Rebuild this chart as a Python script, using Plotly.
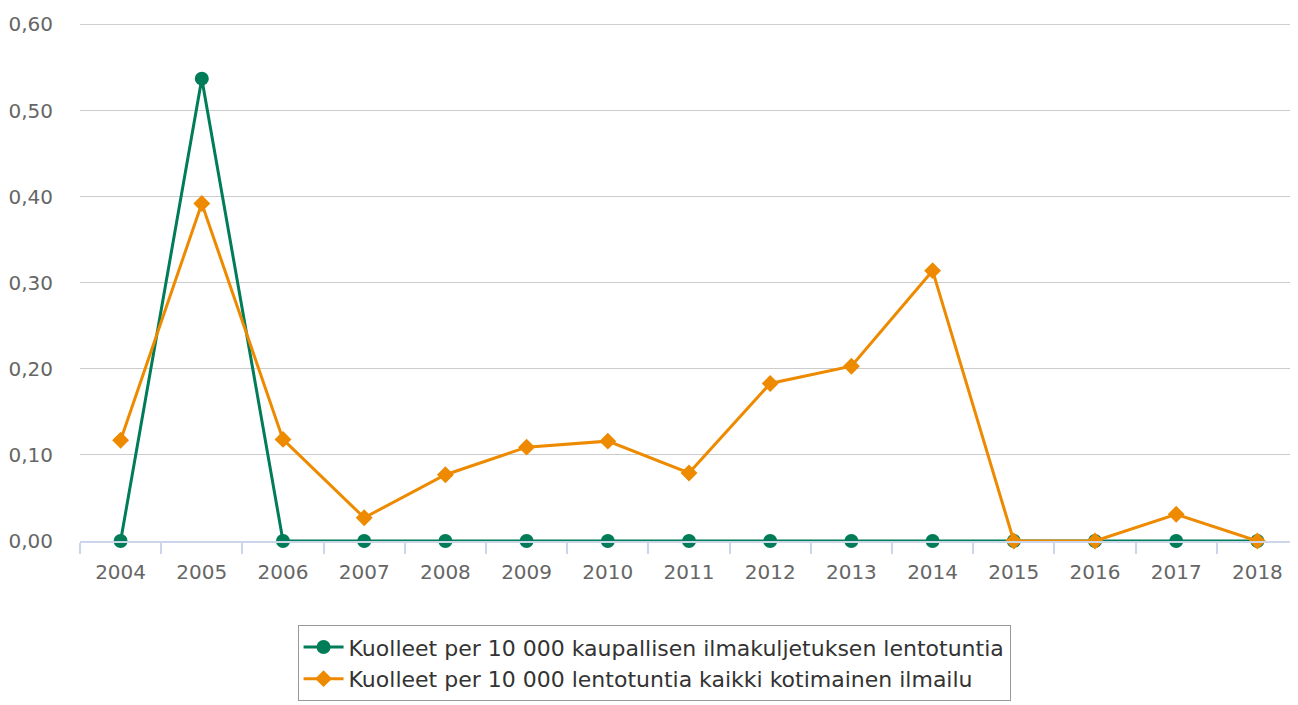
import plotly.graph_objects as go

years = ["2004", "2005", "2006", "2007", "2008", "2009", "2010", "2011",
         "2012", "2013", "2014", "2015", "2016", "2017", "2018"]
commercial = [0.0, 0.537, 0.0, 0.0, 0.0, 0.0, 0.0, 0.0, 0.0, 0.0, 0.0, 0.0, 0.0, 0.0, 0.0]
all_domestic = [0.117, 0.392, 0.118, 0.027, 0.077, 0.109, 0.116, 0.079,
                0.183, 0.203, 0.314, 0.0, 0.0, 0.031, 0.0]
y_ticks = [0, 0.1, 0.2, 0.3, 0.4, 0.5, 0.6]

name_commercial = "Kuolleet per 10 000 kaupallisen ilmakuljetuksen lentotuntia"
name_all = "Kuolleet per 10 000 lentotuntia kaikki kotimainen ilmailu"

green = "#007c58"
orange = "#ee8a00"

fig = go.Figure()
fig.add_trace(go.Scatter(x=years, y=commercial, mode="lines+markers", name=name_commercial,
                         line=dict(color=green, width=3), cliponaxis=False,
                         marker=dict(symbol="circle", size=14, color=green)))
fig.add_trace(go.Scatter(x=years, y=all_domestic, mode="lines+markers", name=name_all,
                         line=dict(color=orange, width=3), cliponaxis=False,
                         marker=dict(symbol="diamond", size=13, color=orange)))

# top gridline sits on the plot edge, plotly skips it, so draw it
fig.add_hline(y=y_ticks[-1], line=dict(color="#cccccc", width=1), layer="below")

# page body has an 8px margin, so the figure is sized/offset to compensate
fig.update_layout(
    width=1290, height=697,
    margin=dict(l=72, r=0, t=16, b=164, autoexpand=False),
    plot_bgcolor="white", paper_bgcolor="white",
    separators=", ",
    font=dict(family="DejaVu Sans", color="#666666", size=20),
    showlegend=True,
    legend=dict(orientation="v", x=0.4713, xanchor="center", y=-0.163, yanchor="top",
                bordercolor="#999999", borderwidth=1, bgcolor="white",
                font=dict(size=22, color="#333333"), itemwidth=40,
                tracegroupgap=0),
)
fig.update_xaxes(type="category", range=[-0.5, 14.5], automargin=False,
                 showgrid=False, showline=True, linecolor="#ccd6eb",
                 linewidth=2, ticks="outside", tickson="boundaries", ticklen=11,
                 tickwidth=2, tickcolor="#ccd6eb", ticklabelstandoff=12,
                 tickfont=dict(size=20, color="#666666"))
fig.update_yaxes(range=[0, 0.6005], tickvals=y_ticks,
                 tickformat=".2f", automargin=False,
                 showgrid=True, gridcolor="#cccccc", gridwidth=1, zeroline=False,
                 showline=False, ticks="", ticklabelstandoff=26,
                 tickfont=dict(size=20, color="#666666"))

fig.write_html("out.html")
